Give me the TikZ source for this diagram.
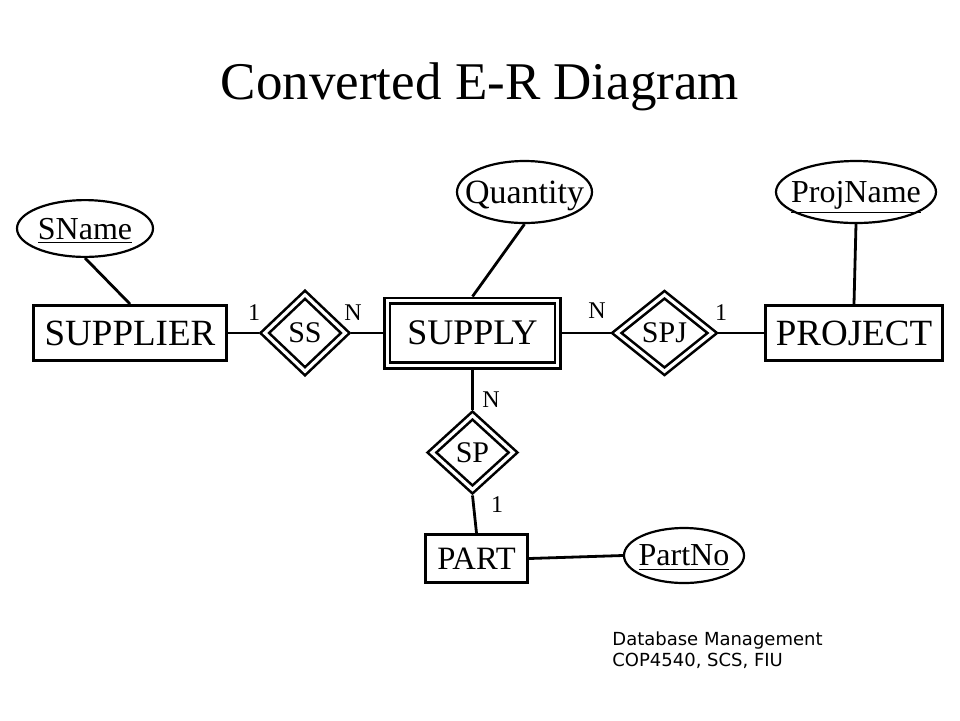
\documentclass[tikz,border=0pt]{standalone}
\usepackage{fontspec}
\setmainfont{Liberation Serif}
\newfontfamily\footfont{DejaVu Sans}
\usepackage{tikz}
\usetikzlibrary{shapes.geometric}
\tikzset{
  entity/.style={draw, rectangle, line width=1.5pt, inner sep=0pt, text depth=0pt,
    font=\fontsize{18.5}{20}\selectfont},
  weakentity/.style={draw, rectangle, double, line width=1.3pt, double distance=1.6pt,
    outer sep=2.1pt, inner sep=0pt, text depth=0pt, font=\fontsize{18}{20}\selectfont},
  relship/.style={draw, diamond, double, line width=1.3pt, double distance=1.6pt,
    outer sep=2.1pt, inner sep=0pt, text depth=0pt, font=\fontsize{15}{17}\selectfont},
  attr/.style={draw, ellipse, line width=1.1pt, inner sep=0pt, text depth=0pt,
    font=\fontsize{16}{18}\selectfont},
  card/.style={inner sep=0pt, text depth=0pt, font=\fontsize{12}{14}\selectfont},
  link/.style={line width=1.4pt},
}
\newcommand{\attrname}[1]{\makebox[0pt]{#1}}
\newcommand{\keyattr}[1]{\makebox[0pt]{\underline{#1}}}

\begin{document}
\begin{tikzpicture}[x=0.5pt, y=-0.5pt]
        \useasboundingbox (0,0) rectangle (960,720);
        \node [inner sep=0pt, text depth=0pt, font=\fontsize{26.5}{30}\selectfont] (title) at (480,81.5) {Converted E-R Diagram};
        % entities and relationships
        \node [entity, minimum width=96.5pt, minimum height=27.5pt] (supplier) at (130,333) {SUPPLIER};
        \node [relship, minimum width=42pt, minimum height=40pt] (ss) at (305,333) {SS};
        \node [weakentity, minimum width=85.3pt, minimum height=32.3pt] (supply) at (472.5,333) {SUPPLY};
        \node [relship, minimum width=49.5pt, minimum height=40pt] (spj) at (664.5,333) {SPJ};
        \node [entity, minimum width=88.5pt, minimum height=27.5pt] (project) at (854,333) {PROJECT};
        \node [relship, minimum width=42.3pt, minimum height=38.7pt] (sp) at (472.5,452.5) {SP};
        \node [entity, minimum width=51pt, minimum height=24pt, font=\fontsize{16.3}{18}\selectfont] (part) at (476.5,558.5) {PART};
        % attributes
        \node [attr, minimum width=68pt, minimum height=28.4pt] (sname) at (85,228.5) {\keyattr{SName}};
        \node [attr, minimum width=67.5pt, minimum height=31pt, font=\fontsize{17}{19}\selectfont] (quantity) at (524.5,192) {\attrname{Quantity}};
        \node [attr, minimum width=80pt, minimum height=31pt] (projname) at (856,192) {\keyattr{ProjName}};
        \node [attr, minimum width=60pt, minimum height=27.5pt] (partno) at (684,555.5) {\keyattr{PartNo}};
        % connectors
        \draw [link] (supplier.east)--(ss.west);
        \draw [link] (ss.east)--(supply.west);
        \draw [link] (supply.east)--(spj.west);
        \draw [link] (spj.east)--(project.west);
        \draw [link] (supply.south)--(sp.north);
        \draw [link] (sp.south)--(part.north);
        \draw [link] (sname.south)--(supplier.north);
        \draw [link] (quantity.south)--(supply.north);
        \draw [link] (projname.south)--(project.north);
        \draw [link] (part.east)--(partno.west);
        % cardinalities
        \node [card] (ssOne) at (254,313) {1};
        \node [card] (ssMany) at (353,313) {N};
        \node [card] (spjMany) at (597,311) {N};
        \node [card] (spjOne) at (721,313) {1};
        \node [card] (spMany) at (491,400) {N};
        \node [card] (spOne) at (497,505) {1};
        \node [anchor=north west, align=left, inner sep=0pt, font=\footfont\fontsize{9}{10.5}\selectfont] (footer) at (612,631) {Database Management\\COP4540, SCS, FIU};
    \end{tikzpicture}
\end{document}
